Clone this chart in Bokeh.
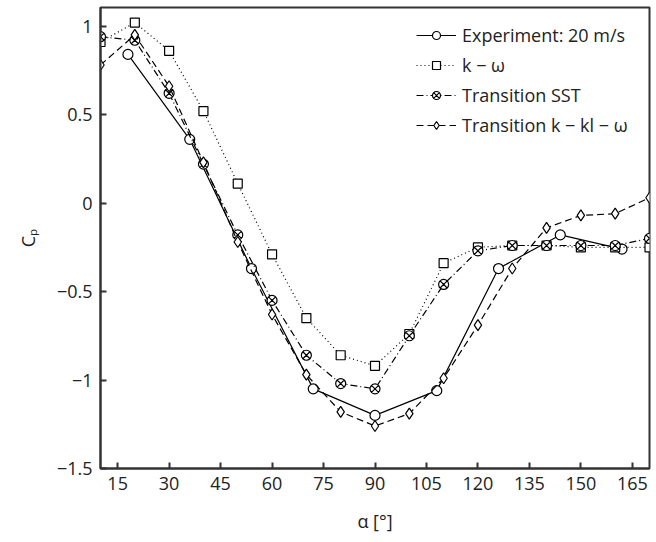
from bokeh.plotting import figure
from bokeh.models import FixedTicker, Legend, LegendItem, Range1d
from bokeh.embed import file_html
from bokeh.resources import INLINE

# Data
exp_alpha = [18, 36, 54, 72, 90, 108, 126, 144, 162]
exp_cp = [0.84, 0.36, -0.37, -1.05, -1.20, -1.06, -0.37, -0.18, -0.26]

sim_alpha = [10, 20, 30, 40, 50, 60, 70, 80, 90, 100, 110, 120, 130, 140, 150, 160, 170]
kw_cp = [0.91, 1.02, 0.86, 0.52, 0.11, -0.29, -0.65, -0.86, -0.92, -0.74, -0.34, -0.25, -0.24, -0.24, -0.25, -0.25, -0.25]
sst_cp = [0.94, 0.92, 0.62, 0.22, -0.18, -0.55, -0.86, -1.02, -1.05, -0.75, -0.46, -0.27, -0.24, -0.24, -0.24, -0.24, -0.20]
kkl_cp = [0.78, 0.95, 0.66, 0.23, -0.22, -0.63, -0.97, -1.18, -1.26, -1.19, -0.99, -0.69, -0.37, -0.14, -0.07, -0.06, 0.03]

x_ticks = [15, 30, 45, 60, 75, 90, 105, 120, 135, 150, 165]
y_ticks = [-1.5, -1, -0.5, 0, 0.5, 1]
y_tick_labels = {-1.5: "\u22121.5", -1: "\u22121", -0.5: "\u22120.5", 0: "0", 0.5: "0.5", 1: "1"}

legend_labels = ["Experiment: 20 m/s", "k \u2212 \u03c9", "Transition SST", "Transition k \u2212 kl \u2212 \u03c9"]

FONT = "Open Sans"
INK = "#222222"

p = figure(width=656, height=542, output_backend="svg", toolbar_location=None,
           x_range=Range1d(10, 170), y_range=Range1d(-1.5, 1.105),
           min_border_left=100, min_border_right=7, min_border_top=7, min_border_bottom=74)
p.xgrid.visible = False
p.ygrid.visible = False
p.outline_line_color = "#333333"
p.outline_line_width = 2
p.outline_line_alpha = 1
p.background_fill_color = "white"
p.border_fill_color = "white"

p.xaxis.ticker = FixedTicker(ticks=x_ticks)
p.yaxis.ticker = FixedTicker(ticks=y_ticks)
p.yaxis.major_label_overrides = y_tick_labels
for ax in (p.xaxis[0], p.yaxis[0]):
    ax.axis_line_color = "#333333"
    ax.axis_line_width = 2
    ax.major_tick_in = 6
    ax.major_tick_out = 0
    ax.major_tick_line_color = "#333333"
    ax.major_tick_line_width = 2
    ax.minor_tick_line_color = None
    ax.major_label_text_font = FONT
    ax.major_label_text_font_size = "18px"
    ax.major_label_text_color = INK
    ax.axis_label_text_font = FONT
    ax.axis_label_text_font_size = "18px"
    ax.axis_label_text_font_style = "normal"
    ax.axis_label_text_color = INK
p.xaxis.major_label_standoff = 8
p.yaxis.major_label_standoff = 8
p.xaxis.axis_label = "\u03b1 [\u00b0]"
p.xaxis.axis_label_standoff = 16
p.yaxis.axis_label = "C\u209a"
p.yaxis.axis_label_standoff = 14

lw = 1.2
r1l = p.line(exp_alpha, exp_cp, line_color="black", line_width=lw)
r1m = p.scatter(exp_alpha, exp_cp, marker="circle", size=10, fill_color="white", line_color="black", line_width=1.2)

r2l = p.line(sim_alpha, kw_cp, line_color="black", line_width=lw, line_dash="1 3")
r2m = p.scatter(sim_alpha, kw_cp, marker="square", size=9, fill_color="white", line_color="black", line_width=1.2)

r3l = p.line(sim_alpha, sst_cp, line_color="black", line_width=lw, line_dash="7 3 1 3")
r3m = p.scatter(sim_alpha, sst_cp, marker="circle_x", size=10, fill_color="white", line_color="black", line_width=1.2)

r4l = p.line(sim_alpha, kkl_cp, line_color="black", line_width=lw, line_dash="7 4")
r4m = p.scatter(sim_alpha, kkl_cp, marker="diamond", size=11, fill_color="white", line_color="black", line_width=1.2)

legend = Legend(items=[
    LegendItem(label=legend_labels[0], renderers=[r1l, r1m]),
    LegendItem(label=legend_labels[1], renderers=[r2l, r2m]),
    LegendItem(label=legend_labels[2], renderers=[r3l, r3m]),
    LegendItem(label=legend_labels[3], renderers=[r4l, r4m]),
], location=(316, 331))
legend.border_line_color = None
legend.background_fill_alpha = 0
legend.margin = 0
legend.padding = 10
legend.spacing = 6
legend.glyph_width = 40
legend.glyph_height = 20
legend.label_height = 20
legend.label_standoff = 6
legend.label_text_font = FONT
legend.label_text_font_size = "18px"
legend.label_text_color = INK
p.add_layout(legend)

open("out.html", "w").write(file_html(p, INLINE))
